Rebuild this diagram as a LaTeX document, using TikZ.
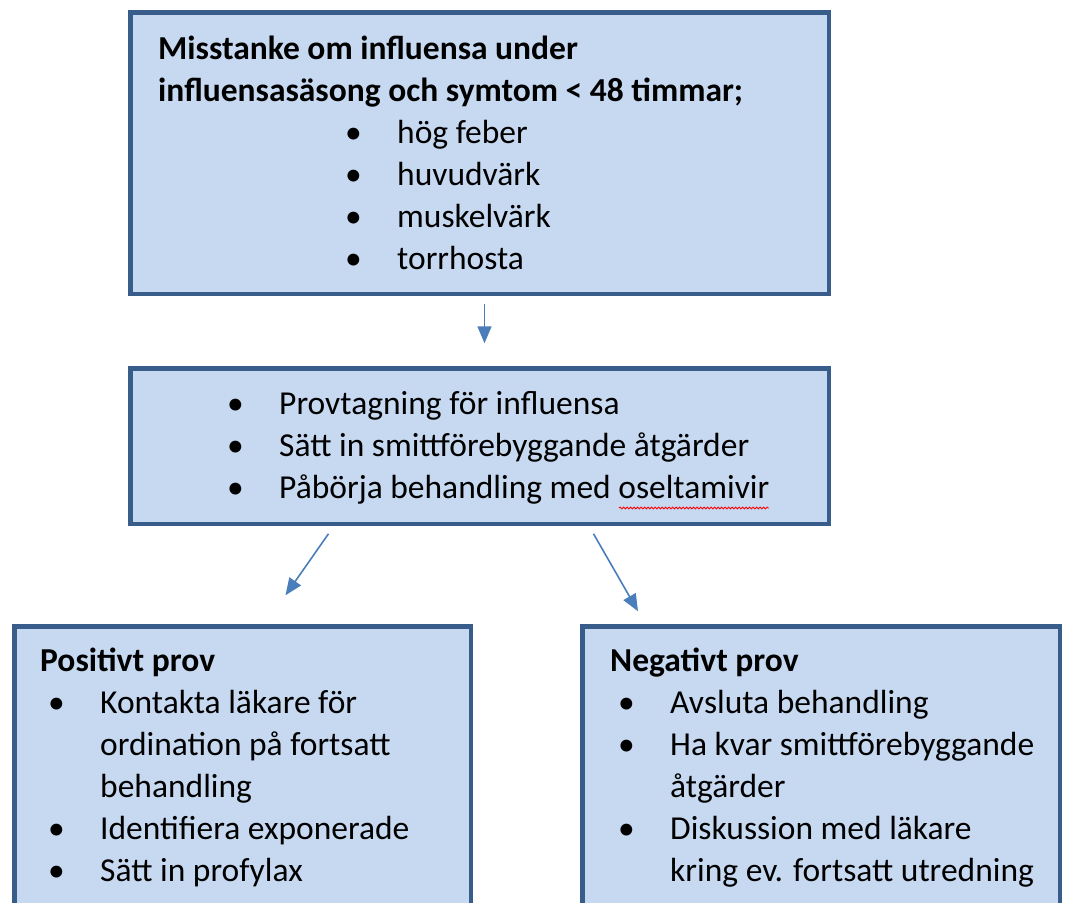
\documentclass[tikz,border=0pt]{standalone}
\usepackage{fontspec}
\setmainfont{Carlito}
\usetikzlibrary{positioning,arrows.meta,decorations.pathmorphing}
\definecolor{boxfill}{HTML}{C6D9F1}
\definecolor{boxline}{HTML}{385D8A}
\definecolor{pilblue}{HTML}{4A7EBB}
\newcommand{\punkt}[1]{\makebox[52pt][l]{\textbullet}#1}
\newcommand{\fortsatt}[1]{\hspace*{52pt}#1}
\begin{document}
\begin{tikzpicture}[x=1pt,y=-1pt,
    box/.style = {rectangle, draw=boxline, line width=4.5pt,
      fill=boxfill, inner sep=0pt, outer sep=0pt},
    txt/.style = {inner sep=0pt, align=left,
      font=\fontsize{33.5}{42}\selectfont},
    pil/.style = {draw=pilblue, line width=1.6pt,
      -{Triangle[length=17pt,width=14pt]}}]
  \useasboundingbox (0,0) rectangle (1075,902);
  \clip (0,0) rectangle (1075,902);
  % boxes
  \node[box, minimum width=698.5pt, minimum height=281.5pt] (misstanke) at (479.5,153) {};
  \node[box, minimum width=698.5pt, minimum height=155.5pt,
    below=74.5pt of misstanke] (prov) {};
  \node[box, anchor=north, minimum width=456.5pt, minimum height=400pt] (positiv) at (242.5,626.25) {};
  \node[box, anchor=north, minimum width=477.5pt, minimum height=400pt] (negativ) at (821,626.25) {};
  % texts
  \node[txt, below right=17.35pt and 27.75pt of misstanke.north west] (misstanketxt)
    {\strut\textbf{Misstanke om influensa under}\\
     \textbf{influensasäsong och symtom < 48 timmar;}\\
     \hspace*{187pt}\punkt{hög feber}\\
     \hspace*{187pt}\punkt{huvudvärk}\\
     \hspace*{187pt}\punkt{muskelvärk}\\
     \hspace*{187pt}\punkt{torrhosta}};
  \node[txt, below right=16.35pt and 96.75pt of prov.north west] (provtxt)
    {\strut\punkt{Provtagning för influensa}\\
     \punkt{Sätt in smittförebyggande åtgärder}\\
     \punkt{Påbörja behandling med oseltamivir}};
  \node[txt, below right=15.35pt and 25.75pt of positiv.north west] (positivtxt)
    {\strut\textbf{Positivt prov}\\
     \hspace*{8pt}\punkt{Kontakta läkare för}\\
     \hspace*{8pt}\fortsatt{ordination på fortsatt}\\
     \hspace*{8pt}\fortsatt{behandling}\\
     \hspace*{8pt}\punkt{Identifiera exponerade}\\
     \hspace*{8pt}\punkt{Sätt in profylax}};
  \node[txt, below right=15.35pt and 27.75pt of negativ.north west] (negativtxt)
    {\strut\textbf{Negativt prov}\\
     \hspace*{8pt}\punkt{Avsluta behandling}\\
     \hspace*{8pt}\punkt{Ha kvar smittförebyggande}\\
     \hspace*{8pt}\fortsatt{åtgärder}\\
     \hspace*{8pt}\punkt{Diskussion med läkare}\\
     \hspace*{8pt}\fortsatt{kring ev. fortsatt utredning}};
  % spell check wave
  \draw[red, line width=0.8pt, decorate,
    decoration={snake, amplitude=1pt, segment length=3.5pt}] (619,508) -- (769,508);
  % arrows
  \draw[pil] ([xshift=5pt,yshift=-10pt]misstanke.south) -- ([xshift=5pt,yshift=25pt]prov.north);
  \draw[pil] ([xshift=-151pt,yshift=-10pt]prov.south) -- ([xshift=43pt,yshift=31pt]positiv.north);
  \draw[pil] ([xshift=114pt,yshift=-10pt]prov.south) -- ([xshift=-183pt,yshift=15pt]negativ.north);
\end{tikzpicture}
\end{document}
